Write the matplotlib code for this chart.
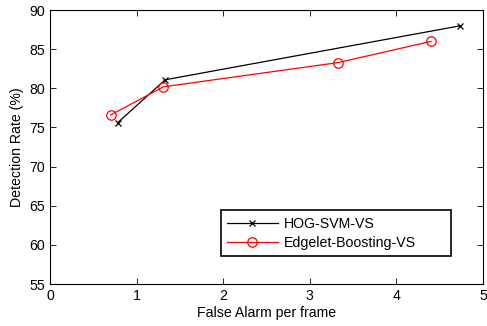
import matplotlib
matplotlib.use("Agg")
import matplotlib.pyplot as plt

plt.rcParams['font.family'] = ['Liberation Sans', 'DejaVu Sans']

hog_x = [0.78, 1.33, 4.74]
hog_y = [75.6, 81.1, 88.0]
edge_x = [0.70, 1.31, 3.33, 4.40]
edge_y = [76.6, 80.2, 83.3, 86.0]

fig = plt.figure(figsize=(4.87, 3.26), dpi=100)
ax = fig.add_axes([0.1027, 0.1288, 0.8891, 0.8402])

ax.plot(hog_x, hog_y, color='black', lw=0.9, marker='x', ms=5, mew=0.9, label='HOG-SVM-VS')
ax.plot(edge_x, edge_y, color='red', lw=0.9, marker='o', ms=6.8, mfc='none', mew=0.9, label='Edgelet-Boosting-VS')

ax.set_xlim(0, 5)
ax.set_ylim(55, 90)
ax.set_xticks([0, 1, 2, 3, 4, 5])
ax.set_yticks([55, 60, 65, 70, 75, 80, 85, 90])
ax.tick_params(direction='in', top=True, right=True, labelsize=10.2, length=4, width=0.6)
for s in ax.spines.values():
    s.set_linewidth(0.8)
ax.set_xlabel('False Alarm per frame', fontsize=10.2, labelpad=2)
ax.set_ylabel('Detection Rate (%)', fontsize=10.2, labelpad=4)

leg = ax.legend(loc='lower left', bbox_to_anchor=(0.394, 0.102, 0.531, 0.165), mode='expand',
                borderaxespad=0, fontsize=10.2, fancybox=False, edgecolor='black', framealpha=1,
                handlelength=3.6, handletextpad=0.4, borderpad=0.45, labelspacing=0.35)
leg.get_frame().set_linewidth(1.2)

fig.savefig('out.png', dpi=100)
